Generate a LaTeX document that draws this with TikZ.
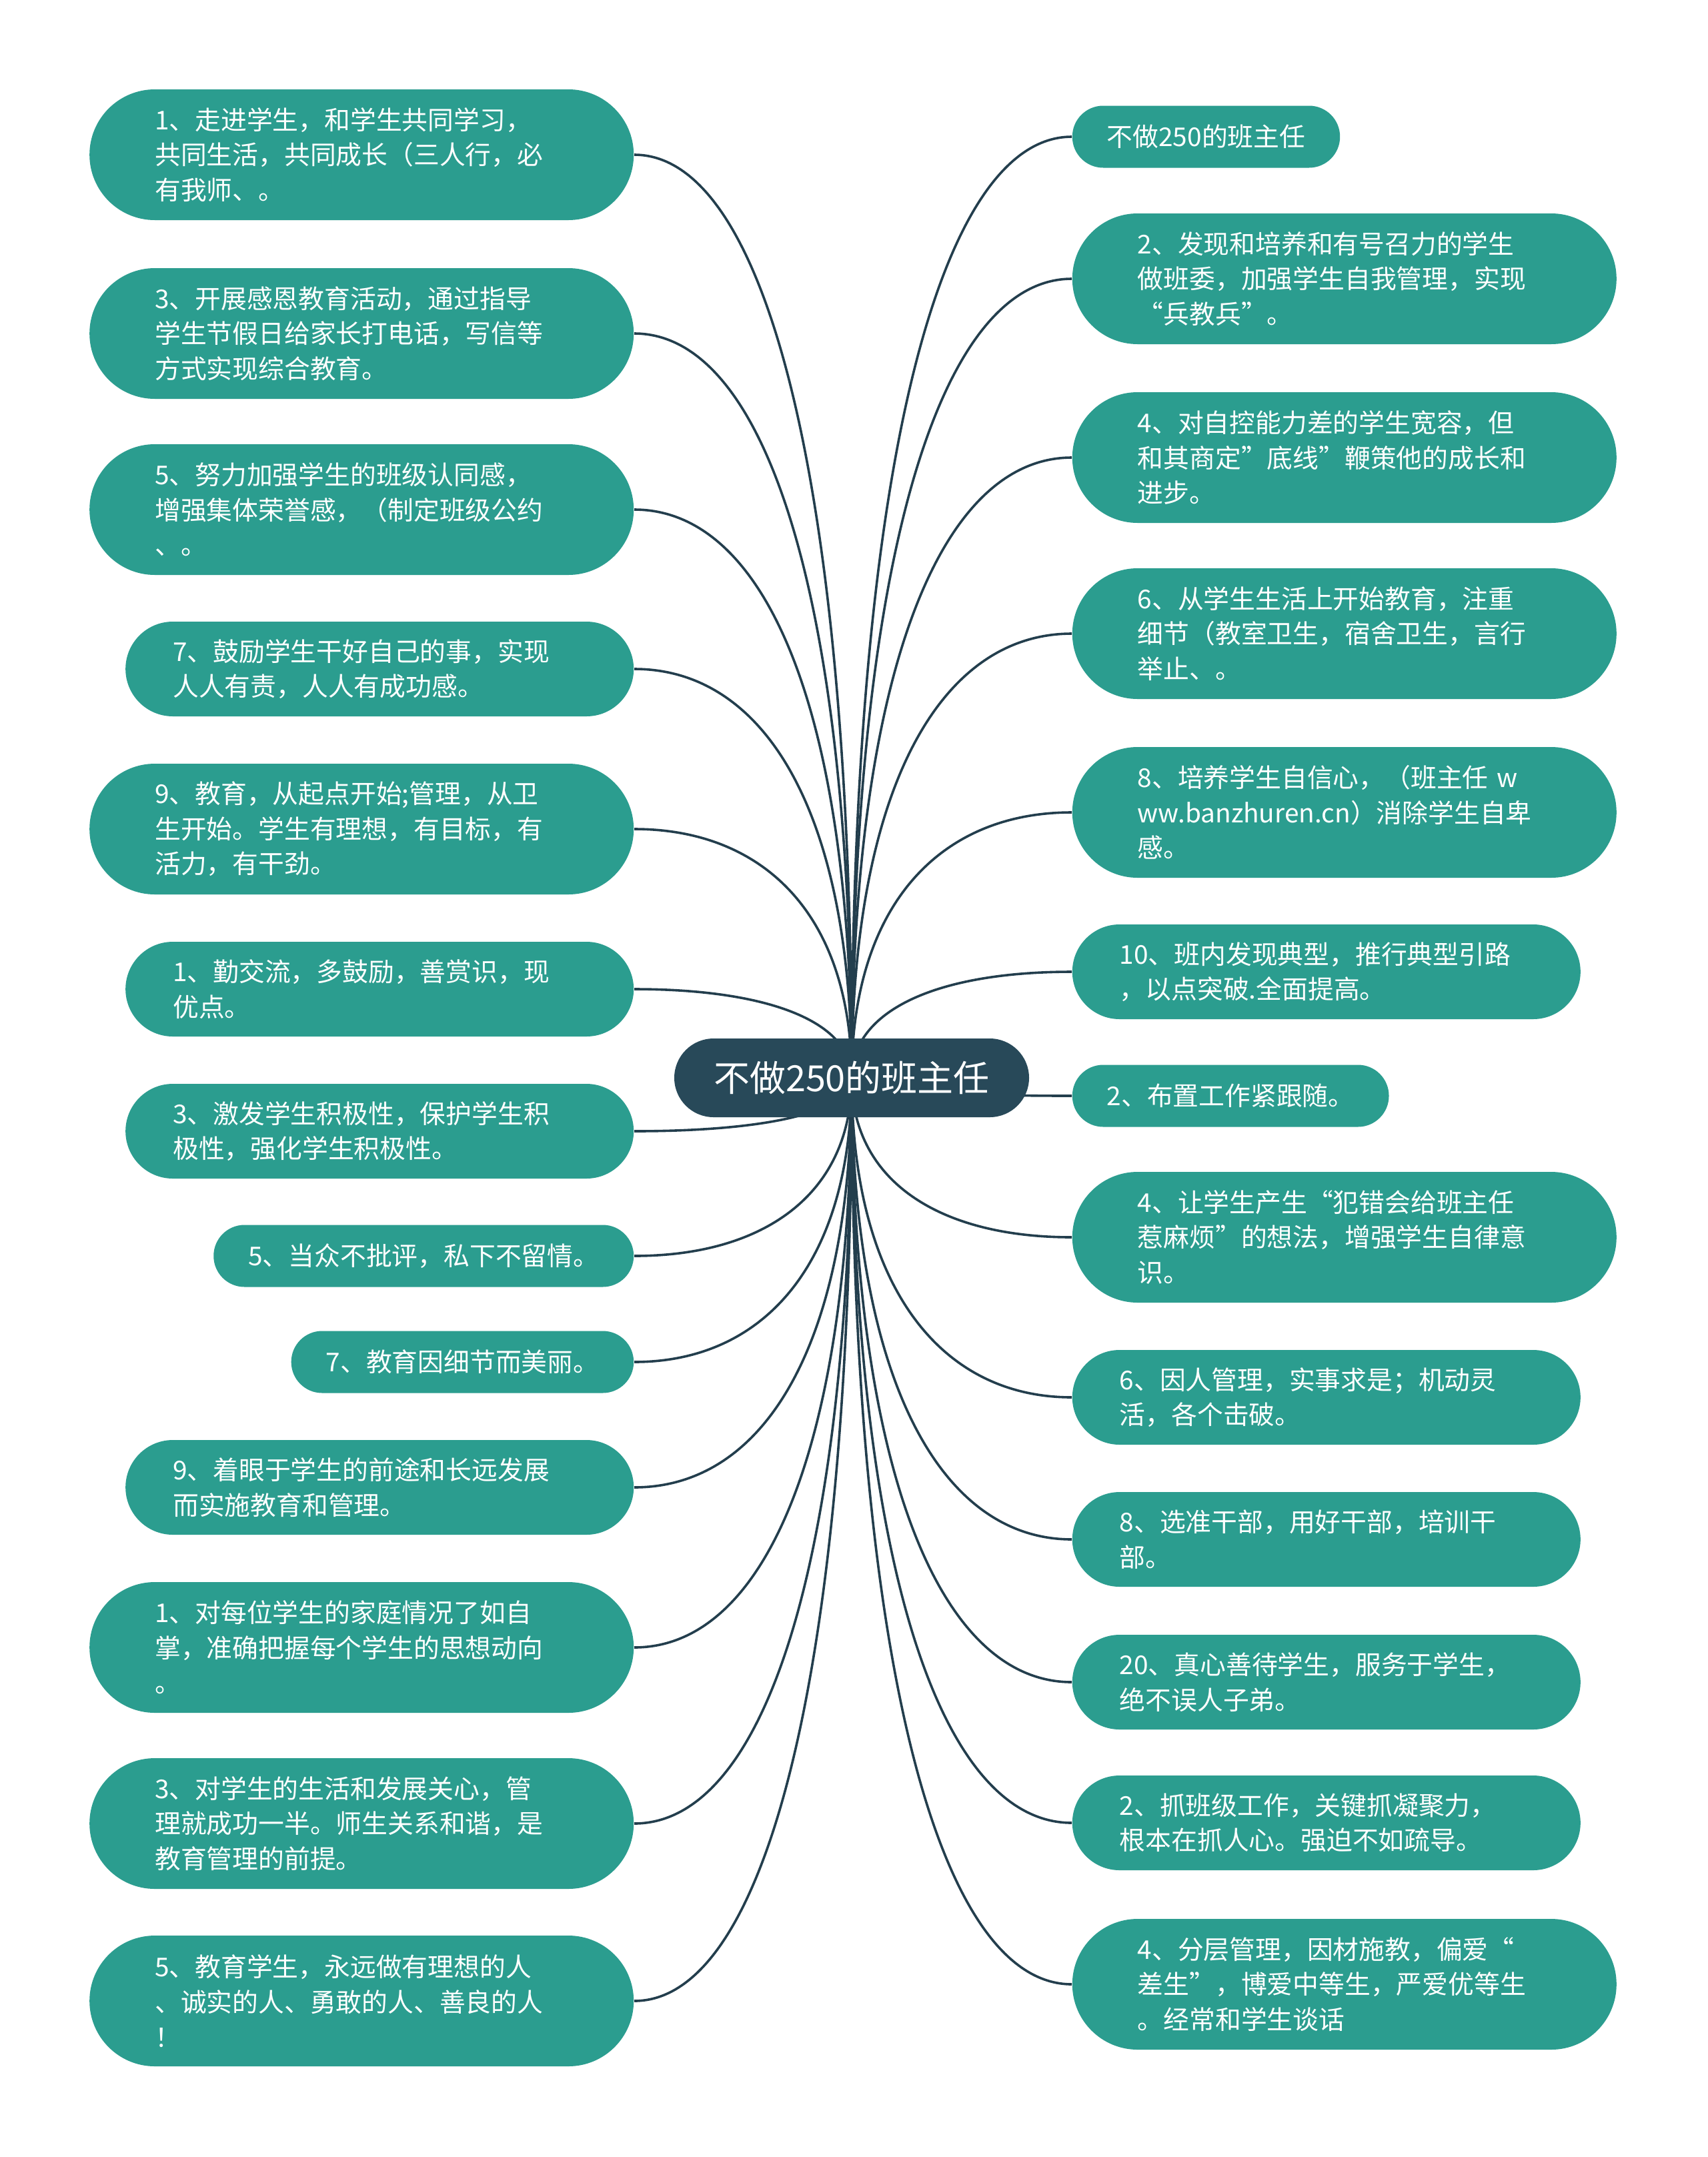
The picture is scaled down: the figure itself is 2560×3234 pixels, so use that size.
\documentclass[tikz,border=0pt]{standalone}
\usepackage{fontspec}
\setmainfont{Noto Sans CJK SC}
\usepackage{tikz}
\usetikzlibrary{calc,backgrounds}
\definecolor{mmteal} {RGB}{43,157,143}
\definecolor{mmslate}{RGB}{40, 73, 89}
\definecolor{mmline} {RGB}{35, 62, 77}
\tikzset{
  root/.style={fill=mmslate,text=white,rounded corners=14.75pt,
    minimum width=133pt,minimum height=29.5pt,inner sep=0pt,
    font=\fontsize{13.5pt}{16pt}\selectfont},
  leaf/.style={fill=mmteal,text=white,align=left,inner ysep=0pt,
    font=\fontsize{9.7pt}{13.15pt}\selectfont},
  leafa/.style={leaf,text width=155pt,inner xsep=24.5pt,
    minimum height=49pt,rounded corners=24.5pt},
  leafb/.style={leaf,text width=155pt,inner xsep=17.75pt,
    minimum height=35.5pt,rounded corners=17.75pt},
  leafc/.style={leaf,inner xsep=13pt,
    minimum height=23.25pt,rounded corners=11.6pt},
  lft/.style={anchor=east},
  rgt/.style={anchor=west},
  link/.style={draw=mmline,line width=0.9pt},
}
\begin{document}
\begin{tikzpicture}[x=0.25pt,y=-0.25pt]
  \useasboundingbox (0,0) rectangle (2560,3234);
  % centre
  \node[root] (root) at (1277,1616) {不做250的班主任};
  % left branch
  \node[leafa,lft] (l1) at (951,232) {1、走进学生，和学生共同学习，\\共同生活，共同成长（三人行，必\\有我师、。};
  \node[leafa,lft] (l2) at (951,500) {3、开展感恩教育活动，通过指导\\学生节假日给家长打电话，写信等\\方式实现综合教育。};
  \node[leafa,lft] (l3) at (951,764) {5、努力加强学生的班级认同感，\\增强集体荣誉感，（制定班级公约\\、。};
  \node[leafb,lft] (l4) at (951,1003) {7、鼓励学生干好自己的事，实现\\人人有责，人人有成功感。};
  \node[leafa,lft] (l5) at (951,1243) {9、教育，从起点开始;管理，从卫\\生开始。学生有理想，有目标，有\\活力，有干劲。};
  \node[leafb,lft] (l6) at (951,1483) {1、勤交流，多鼓励，善赏识，现\\优点。};
  \node[leafb,lft] (l7) at (951,1696) {3、激发学生积极性，保护学生积\\极性，强化学生积极性。};
  \node[leafc,lft] (l8) at (951,1883) {5、当众不批评，私下不留情。};
  \node[leafc,lft] (l9) at (951,2042) {7、教育因细节而美丽。};
  \node[leafb,lft] (l10) at (951,2230) {9、着眼于学生的前途和长远发展\\而实施教育和管理。};
  \node[leafa,lft] (l11) at (951,2470) {1、对每位学生的家庭情况了如自\\掌，准确把握每个学生的思想动向\\。};
  \node[leafa,lft] (l12) at (951,2734) {3、对学生的生活和发展关心，管\\理就成功一半。师生关系和谐，是\\教育管理的前提。};
  \node[leafa,lft] (l13) at (951,3000) {5、教育学生，永远做有理想的人\\、诚实的人、勇敢的人、善良的人\\！};
  % right branch
  \node[leafc,rgt] (r1) at (1607,205) {不做250的班主任};
  \node[leafa,rgt] (r2) at (1607,418) {2、发现和培养和有号召力的学生\\做班委，加强学生自我管理，实现\\“兵教兵”。};
  \node[leafa,rgt] (r3) at (1607,686) {4、对自控能力差的学生宽容，但\\和其商定”底线”鞭策他的成长和\\进步。};
  \node[leafa,rgt] (r4) at (1607,950) {6、从学生生活上开始教育，注重\\细节（教室卫生，宿舍卫生，言行\\举止、。};
  \node[leafa,rgt] (r5) at (1607,1218) {8、培养学生自信心，（班主任 w\\ww.banzhuren.cn）消除学生自卑\\感。};
  \node[leafb,rgt] (r6) at (1607,1457) {10、班内发现典型，推行典型引路\\，以点突破.全面提高。};
  \node[leafc,rgt] (r7) at (1607,1643) {2、布置工作紧跟随。};
  \node[leafa,rgt] (r8) at (1607,1855) {4、让学生产生“犯错会给班主任\\惹麻烦”的想法，增强学生自律意\\识。};
  \node[leafb,rgt] (r9) at (1607,2095) {6、因人管理，实事求是；机动灵\\活，各个击破。};
  \node[leafb,rgt] (r10) at (1607,2308) {8、选准干部，用好干部，培训干\\部。};
  \node[leafb,rgt] (r11) at (1607,2522) {20、真心善待学生，服务于学生，\\绝不误人子弟。};
  \node[leafb,rgt] (r12) at (1607,2733) {2、抓班级工作，关键抓凝聚力，\\根本在抓人心。强迫不如疏导。};
  \node[leafa,rgt] (r13) at (1607,2975) {4、分层管理，因材施教，偏爱“\\差生”，博爱中等生，严爱优等生\\。经常和学生谈话};

  % connectors
  \begin{scope}[on background layer]
    \fill[white] (0,0) rectangle (2560,3234);
    \foreach \i in {1,...,13}{
      \draw[link] (root.center)
        .. controls ($(root.center)!0.65!(root.center|-l\i.east)$)
        and ($(l\i.east)!0.6!(l\i.east-|root.center)$) .. (l\i.east);
      \draw[link] (root.center)
        .. controls ($(root.center)!0.65!(root.center|-r\i.west)$)
        and ($(r\i.west)!0.6!(r\i.west-|root.center)$) .. (r\i.west);
    }
  \end{scope}
\end{tikzpicture}
\end{document}
